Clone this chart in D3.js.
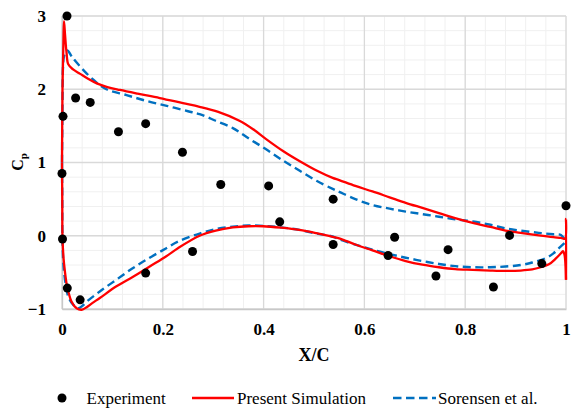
<!DOCTYPE html>
<html lang="en">
<head>
  <meta charset="UTF-8">
  <title>Cp distribution</title>
  <script src="https://cdn.jsdelivr.net/npm/d3@7"></script>
</head>
<body>
<style>
  * {
    padding: 0;
    margin: 0;
  }

  body {
    background: #fff;
  }

  #app {
    width: 572px;
    height: 412px;
  }

  text {
    font-family: "Liberation Serif", "Times New Roman", serif;
  }
</style>

<div id="app"></div>

<script>
  // tick labels
  const xTicks = [0, 0.2, 0.4, 0.6, 0.8, 1];
  const yTicks = [-1, 0, 1, 2, 3];

  // experiment points [x/c, Cp]
  const experiment = [
    [0.0099, 3.0], [0.027, 1.88], [0.056, 1.82], [0.002, 1.63], [0.112, 1.42],
    [0.166, 1.53], [0.239, 1.14], [0, 0.85], [0.001, -0.045], [0.0105, -0.715],
    [0.036, -0.875], [0.166, -0.51], [0.259, -0.215], [0.315, 0.70], [0.41, 0.68],
    [0.432, 0.19], [0.538, 0.50], [0.538, -0.12], [0.66, -0.02], [0.647, -0.27],
    [0.766, -0.19], [0.742, -0.55], [0.888, 0.005], [0.856, -0.70], [0.952, -0.38],
    [1.0, 0.41]
  ];

  // present simulation, upper and lower branches from the leading edge
  const simUpper = [
    [0, 1.0], [0.001, 2.0], [0.003, 2.7], [0.004, 2.93], [0.006, 2.75], [0.009, 2.5],
    [0.0125, 2.34], [0.022, 2.27], [0.036, 2.21], [0.05, 2.15], [0.069, 2.08], [0.09, 2.03],
    [0.115, 1.99], [0.15, 1.94], [0.194, 1.88], [0.24, 1.81], [0.273, 1.76], [0.31, 1.69],
    [0.352, 1.57], [0.38, 1.45], [0.405, 1.32], [0.44, 1.15], [0.471, 1.02], [0.505, 0.89],
    [0.537, 0.79], [0.55, 0.76], [0.582, 0.68], [0.616, 0.605], [0.65, 0.525], [0.682, 0.45],
    [0.715, 0.38], [0.748, 0.31], [0.78, 0.24], [0.815, 0.175], [0.85, 0.12], [0.88, 0.07],
    [0.91, 0.04], [0.946, 0.005], [0.975, -0.02], [0.99, -0.03], [0.998, -0.04], [1.0, 0.23],
    [1.0, -0.6]
  ];
  const simLower = [
    [0, 1.0], [0.0005, 0.5], [0.001, -0.03], [0.003, -0.3], [0.006, -0.5], [0.009, -0.65],
    [0.0125, -0.76], [0.019, -0.9], [0.029, -0.99], [0.039, -1.01], [0.049, -0.975],
    [0.06, -0.92], [0.075, -0.85], [0.108, -0.69], [0.141, -0.56], [0.174, -0.42],
    [0.207, -0.28], [0.23, -0.17], [0.273, 0.0], [0.305, 0.07], [0.339, 0.113], [0.37, 0.13],
    [0.399, 0.13], [0.435, 0.11], [0.471, 0.08], [0.505, 0.035], [0.537, -0.015],
    [0.55, -0.035], [0.582, -0.12], [0.616, -0.2], [0.65, -0.28], [0.682, -0.345],
    [0.715, -0.395], [0.748, -0.43], [0.78, -0.455], [0.815, -0.465], [0.85, -0.475],
    [0.88, -0.48], [0.91, -0.475], [0.933, -0.46], [0.95, -0.43], [0.966, -0.39],
    [0.98, -0.31], [0.99, -0.24], [0.994, -0.21], [0.997, -0.26], [1.0, -0.6]
  ];

  // Sorensen et al.
  const sorUpper = [
    [0, 1.0], [0.001, 1.8], [0.002, 2.3], [0.004, 2.45], [0.0105, 2.53], [0.02, 2.44],
    [0.036, 2.31], [0.062, 2.13], [0.088, 2.0], [0.128, 1.92], [0.168, 1.84], [0.21, 1.77],
    [0.25, 1.70], [0.273, 1.66], [0.305, 1.57], [0.339, 1.47], [0.37, 1.33], [0.405, 1.18],
    [0.44, 1.02], [0.471, 0.89], [0.505, 0.75], [0.537, 0.64], [0.55, 0.6], [0.582, 0.5],
    [0.616, 0.42], [0.65, 0.37], [0.682, 0.33], [0.715, 0.295], [0.748, 0.26], [0.78, 0.225],
    [0.815, 0.195], [0.85, 0.15], [0.88, 0.10], [0.91, 0.07], [0.946, 0.04], [0.975, 0.02],
    [0.99, 0.01], [1.0, -0.08]
  ];
  const sorLower = [
    [0, 1.0], [0.0005, 0.5], [0.001, -0.1], [0.003, -0.4], [0.006, -0.6], [0.0125, -0.83],
    [0.022, -0.94], [0.032, -0.99], [0.04, -0.96], [0.049, -0.9], [0.075, -0.76],
    [0.108, -0.6], [0.141, -0.44], [0.174, -0.3], [0.207, -0.17], [0.23, -0.08],
    [0.273, 0.03], [0.305, 0.09], [0.339, 0.125], [0.37, 0.14], [0.4, 0.135], [0.435, 0.115],
    [0.471, 0.08], [0.505, 0.03], [0.537, -0.01], [0.55, -0.05], [0.582, -0.12],
    [0.616, -0.19], [0.65, -0.25], [0.682, -0.30], [0.715, -0.345], [0.748, -0.385],
    [0.78, -0.415], [0.815, -0.43], [0.85, -0.43], [0.88, -0.42], [0.91, -0.4],
    [0.933, -0.365], [0.96, -0.305], [0.975, -0.24], [0.986, -0.17], [1.0, -0.08]
  ];

  const legendNames = ["Experiment", "Present Simulation", "Sorensen et al."];

  let $width = 572, $height = 412;
  let $left = 62, $right = 566, $top = 16, $bottom = 309;

  const svg = d3.select("#app").append("svg").attr("width", $width).attr("height", $height)

  const scaleX = d3.scaleLinear().domain([0, 1]).range([$left, $right])
  const scaleY = d3.scaleLinear().domain([-1, 3]).range([$bottom, $top])

  // minor grid
  const minorX = d3.range(0, 1.0001, 0.04), minorY = d3.range(-1, 3.0001, 0.2)
  svg.append("g").selectAll("line").data(minorX).enter().append("line")
    .attr("x1", d => scaleX(d)).attr("x2", d => scaleX(d))
    .attr("y1", $top).attr("y2", $bottom).attr("stroke", "#f0f0f0")
  svg.append("g").selectAll("line").data(minorY).enter().append("line")
    .attr("y1", d => scaleY(d)).attr("y2", d => scaleY(d))
    .attr("x1", $left).attr("x2", $right).attr("stroke", "#f0f0f0")

  // major grid
  svg.append("g").selectAll("line").data(xTicks).enter().append("line")
    .attr("x1", d => scaleX(d)).attr("x2", d => scaleX(d))
    .attr("y1", $top).attr("y2", $bottom).attr("stroke", "#d9d9d9").attr("stroke-width", 1.3)
  svg.append("g").selectAll("line").data(yTicks).enter().append("line")
    .attr("y1", d => scaleY(d)).attr("y2", d => scaleY(d))
    .attr("x1", $left).attr("x2", $right).attr("stroke", "#d9d9d9").attr("stroke-width", 1.3)

  // axes (labels only, lines drawn by the grid)
  const axisX = d3.axisBottom(scaleX).tickValues(xTicks).tickSize(0).tickPadding(14)
    .tickFormat(d => d === 0 || d === 1 ? d3.format("d")(d) : d3.format(".1f")(d))
  const axisY = d3.axisLeft(scaleY).tickValues(yTicks).tickSize(0).tickPadding(16)
    .tickFormat(d3.format("d"))

  const gx = svg.append("g").attr("transform", "translate(0," + $bottom + ")").call(axisX)
  const gy = svg.append("g").attr("transform", "translate(" + $left + ",0)").call(axisY)
  gx.select(".domain").attr("stroke", "#c8c8c8").attr("stroke-width", 1.3)
  gy.select(".domain").attr("stroke", "#c8c8c8").attr("stroke-width", 1.3)
  svg.selectAll(".tick text").attr("font-family", "Liberation Serif").attr("font-size", 17)
    .attr("font-weight", "bold").attr("fill", "#000")

  // lines
  const line = d3.line().x(d => scaleX(d[0])).y(d => scaleY(d[1]))
    .curve(d3.curveCatmullRom.alpha(0.5))

  ;[sorUpper, sorLower].forEach(function (s) {
    svg.append("path").attr("d", line(s)).attr("fill", "none")
      .attr("stroke", "#0070c0").attr("stroke-width", 2.4).attr("stroke-dasharray", "8,4.5")
  })
  ;[simUpper, simLower].forEach(function (s) {
    svg.append("path").attr("d", line(s)).attr("fill", "none")
      .attr("stroke", "#ff0000").attr("stroke-width", 2.3)
  })

  svg.append("g").selectAll("circle").data(experiment).enter().append("circle")
    .attr("cx", d => scaleX(d[0])).attr("cy", d => scaleY(d[1])).attr("r", 4.5).attr("fill", "#000")

  // axis titles
  svg.append("text").attr("x", ($left + $right) / 2).attr("y", 361).attr("text-anchor", "middle")
    .attr("font-size", 18).attr("font-weight", "bold").text("X/C")

  const yt = svg.append("text").attr("transform", "translate(23,162) rotate(-90)")
    .attr("text-anchor", "middle").attr("font-size", 16).attr("font-weight", "bold")
  yt.append("tspan").text("C")
  yt.append("tspan").attr("font-size", 11).attr("dy", 4).text("p")

  // legend
  const lg = svg.append("g").attr("transform", "translate(0,398)")
  lg.append("circle").attr("cx", 62).attr("cy", 0).attr("r", 4.5).attr("fill", "#000")
  lg.append("line").attr("x1", 192).attr("x2", 234).attr("y1", 0).attr("y2", 0)
    .attr("stroke", "#ff0000").attr("stroke-width", 2.3)
  lg.append("line").attr("x1", 393).attr("x2", 436).attr("y1", 0).attr("y2", 0)
    .attr("stroke", "#0070c0").attr("stroke-width", 2.4).attr("stroke-dasharray", "8.5,4.5")
  lg.selectAll("text").data(legendNames).enter().append("text")
    .attr("x", (d, i) => [86.5, 237, 438][i]).attr("y", 6).attr("font-size", 17).text(d => d)
</script>

</body>
</html>
